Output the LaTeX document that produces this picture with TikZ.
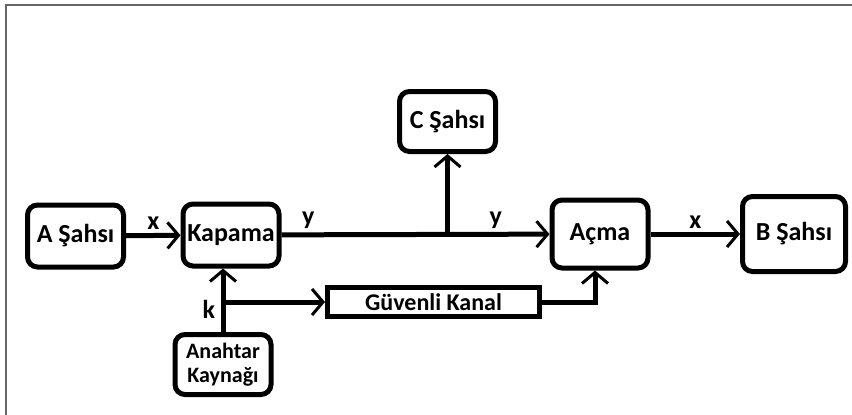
\documentclass[tikz,border=0pt]{standalone}
\usepackage{fontspec}
\setmainfont{Carlito}
\usetikzlibrary{arrows.meta}

\begin{document}
\begin{tikzpicture}[x=1pt, y=-1pt, line width=5pt,
    every node/.style={font=\bfseries\fontsize{26}{27}\selectfont},
    party/.style={draw, rounded corners=10pt, inner sep=0pt, minimum width=96pt, minimum height=62pt},
    chan/.style={draw, inner sep=0pt, minimum width=212pt, minimum height=29pt},
    arr/.style={-{Straight Barb[length=11pt, width=26pt, line width=3pt 0]}}
  ]

    \useasboundingbox (0,0) rectangle (852,415);
    \draw[line width=1.5pt, black!60] (6,415) -- (6,5) -- (852,5);

    \node[party] (a) at (75.5,236) {A Şahsı};
    \node[party] (kap) at (231,235) {Kapama};
    \node[party, minimum height=60pt] (c) at (447.5,121.5) {C Şahsı};
    \node[party, minimum height=68pt] (acma) at (600,234) {Açma};
    \node[party, minimum width=103pt, minimum height=75pt] (b) at (794,234) {B Şahsı};
    \node[chan, font=\bfseries\fontsize{24}{25}\selectfont] (kanal) at (433.5,302) {Güvenli Kanal};
    \node[party, minimum height=60pt, align=center, font=\bfseries\fontsize{22}{24}\selectfont] (kay) at (223,364.5) {Anahtar\\Kaynağı};

    \coordinate (j) at (c |- kap);
    \coordinate (kj) at (kay |- kanal);

    \draw[arr] (a) -- node[above=0pt] {x} (kap);
    \draw[arr] (kap) -- node[pos=0.1, above=0pt] {y} node[pos=0.8, above=0pt] {y} (acma);
    \draw[arr] (j) -- (c);
    \draw[arr] (acma) -- node[above=0pt] {x} (b);
    \draw[arr] (kay.north) -- node[pos=0.35, left=2pt] {k} (kay.north |- kap.south);
    \draw[arr] (kj) -- (kanal);
    \draw[arr] (kanal) -| ([xshift=-5pt]acma.south);

\end{tikzpicture}
\end{document}
